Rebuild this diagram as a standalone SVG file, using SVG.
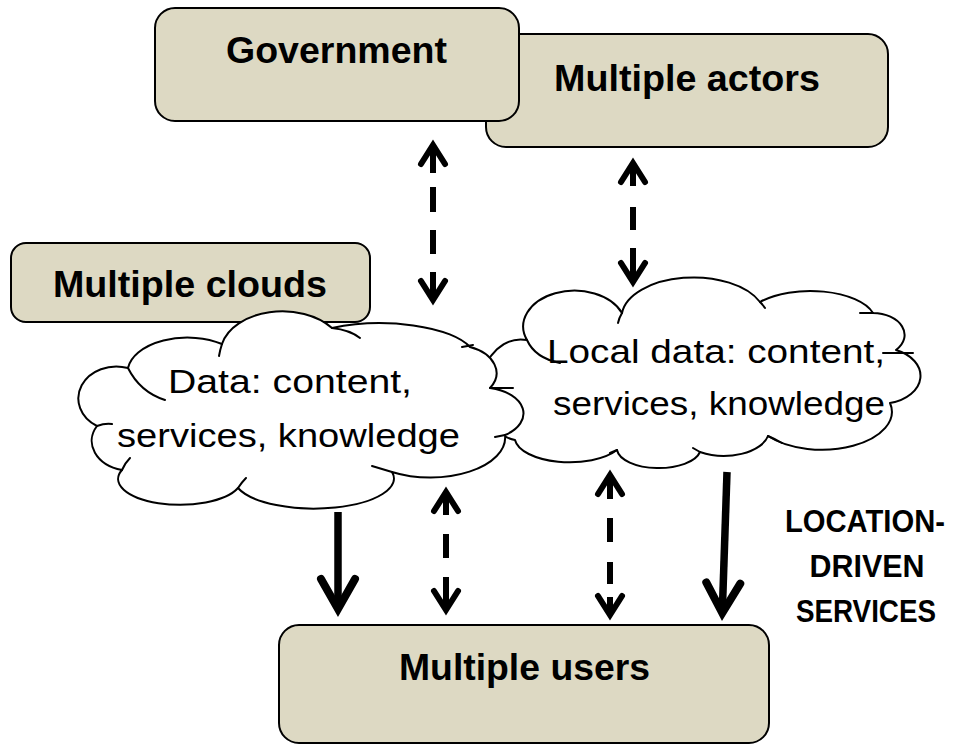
<svg xmlns="http://www.w3.org/2000/svg" width="953" height="745" viewBox="0 0 953 745">
<style>
.box{fill:#ddd9c3;stroke:#000;stroke-width:2}
.cloud{fill:#fff;stroke:#000;stroke-width:2;stroke-linejoin:round}
.hook{fill:none;stroke:#000;stroke-width:2;stroke-linecap:round}
.bt{font-family:"Liberation Sans",Arial,sans-serif;font-weight:bold;font-size:36px;fill:#000}
.ct{font-family:"Liberation Sans",Arial,sans-serif;font-size:33px;fill:#000}
.lt{font-family:"Liberation Sans",Arial,sans-serif;font-weight:bold;font-size:31px;fill:#000;text-anchor:middle}
.dash{stroke:#000;stroke-width:6;fill:none;marker-start:url(#hd);marker-end:url(#hd)}
.solid{stroke:#000;stroke-width:7.5;fill:none;marker-end:url(#hs)}
</style>
<defs>
<marker id="hd" markerUnits="userSpaceOnUse" markerWidth="60" markerHeight="60" viewBox="-30 -30 60 60" refX="0" refY="0" orient="auto-start-reverse">
<path d="M -18 -12 L 1 0 L -18 12" fill="none" stroke="#000" stroke-width="6" stroke-linecap="round" stroke-linejoin="miter"/>
</marker>
<marker id="hs" markerUnits="userSpaceOnUse" markerWidth="80" markerHeight="80" viewBox="-40 -40 80 80" refX="0" refY="0" orient="auto">
<path d="M -29 -17 L 1 0 L -29 17" fill="none" stroke="#000" stroke-width="8" stroke-linecap="round" stroke-linejoin="miter"/>
</marker>
</defs>
<rect width="953" height="745" fill="#fff"/>

<g id="node-multiple-actors">
<rect class="box" x="486" y="34" width="402" height="113" rx="20"/>
<text class="bt" x="554" y="91" textLength="266" lengthAdjust="spacingAndGlyphs">Multiple actors</text>
</g>
<g id="node-government">
<rect class="box" x="155" y="8" width="364" height="113" rx="20"/>
<text class="bt" x="226" y="63" textLength="221" lengthAdjust="spacingAndGlyphs">Government</text>
</g>
<g id="node-multiple-clouds">
<rect class="box" x="11" y="243" width="359" height="79" rx="15"/>
<text class="bt" x="53" y="297" textLength="274" lengthAdjust="spacingAndGlyphs">Multiple clouds</text>
</g>

<g id="node-local-cloud">
<path class="cloud" d="M 527 340 A 50 35 0 0 1 622 313 A 72 40 0 0 1 760 302 A 65 30 0 0 1 873 313 A 32 22 0 0 1 896 350 A 40 28 0 0 1 890 403 A 70 38 0 0 1 768 436 A 45 25 0 0 1 700 452 A 42 20 0 0 1 617 450 A 55 25 0 0 1 515 440 A 40 50 0 0 1 527 340 Z"/>
<path class="hook" d="M 527 340 Q 535 358 560 363 M 622 313 Q 619 318 618 323 M 760 302 Q 763 305 765 308 M 860 313 L 873 313 M 883 353 L 913 353 M 768 436 Q 775 439 782 443 M 700 452 L 693 448 M 617 450 L 610 453"/>
<text class="ct" x="547" y="363" textLength="338" lengthAdjust="spacingAndGlyphs">Local data: content,</text>
<text class="ct" x="553" y="415" textLength="332" lengthAdjust="spacingAndGlyphs">services, knowledge</text>
</g>

<g id="node-data-cloud">
<path class="cloud" d="M 128 368 A 60 35 0 0 1 222 344 A 62 42 0 0 1 332 328 A 95 35 0 0 1 470 347 A 42 28 0 0 1 490 388 A 42 26 0 0 1 505 435 A 75 40 0 0 1 392 472 A 80 30 0 0 1 238 488 A 60 25 0 0 1 122 470 A 40 30 0 0 1 97 426 A 38 32 0 0 1 128 368 Z"/>
<path class="hook" d="M 128 368 Q 140 392 165 400 M 222 344 Q 220 350 219 356 M 332 328 Q 350 330 360 338 M 462 347 L 473 345 M 490 388 L 513 388 M 505 435 L 495 437 M 392 472 L 372 466 M 238 488 Q 242 482 246 478 M 122 470 Q 125 463 130 458 M 97 426 Q 105 423 112 424"/>
<text class="ct" x="168" y="393" textLength="244" lengthAdjust="spacingAndGlyphs">Data: content,</text>
<text class="ct" x="117" y="447" textLength="343" lengthAdjust="spacingAndGlyphs">services, knowledge</text>
</g>

<g id="node-multiple-users">
<rect class="box" x="279" y="625" width="490" height="118" rx="20"/>
<text class="bt" x="399" y="680" textLength="251" lengthAdjust="spacingAndGlyphs">Multiple users</text>
</g>

<g id="label-location">
<text class="lt" x="865" y="532" textLength="160" lengthAdjust="spacingAndGlyphs">LOCATION-</text>
<text class="lt" x="867" y="577" textLength="115" lengthAdjust="spacingAndGlyphs">DRIVEN</text>
<text class="lt" x="866" y="622" textLength="140" lengthAdjust="spacingAndGlyphs">SERVICES</text>
</g>

<g id="connectors">
<line class="dash" x1="433" y1="146" x2="433" y2="299" stroke-dasharray="27 14 25 18 24 18 27"/>
<line class="dash" x1="633" y1="164" x2="633" y2="281" stroke-dasharray="22 21 23 18 33"/>
<line class="dash" x1="446" y1="493" x2="446" y2="609" stroke-dasharray="22 19 24 19 32"/>
<line class="dash" x1="610" y1="476" x2="610" y2="614" stroke-dasharray="23 19 24 20 22 13 17"/>
<line class="solid" x1="338" y1="512" x2="338" y2="608"/>
<line class="solid" x1="727" y1="472" x2="722.3" y2="612"/>
</g>
</svg>
